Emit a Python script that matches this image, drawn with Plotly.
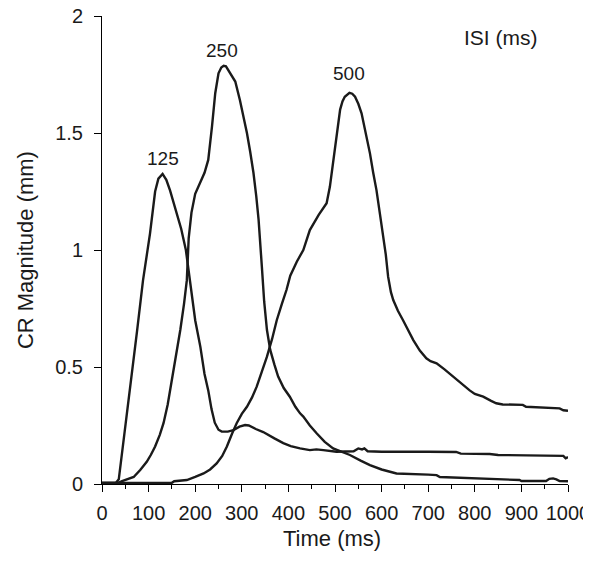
import plotly.graph_objects as go

# ---------- data ----------

t_125 = [0, 30, 36, 50, 62, 75, 88, 103, 114, 121, 130, 138, 146, 160, 170, 180, 188, 200,
         211, 220, 228, 235, 242, 250, 257, 270, 282, 295, 307, 315, 330, 346, 370, 389,
         405, 425, 446, 460, 475, 503, 540, 550, 558, 563, 570, 600, 700, 760, 770, 832,
         850, 990, 995, 1000]
cr_125 = [0.005, 0.005, 0.02, 0.24, 0.43, 0.65, 0.87, 1.07, 1.25, 1.305, 1.325, 1.30, 1.255,
          1.155, 1.09, 1.0, 0.88, 0.70, 0.587, 0.47, 0.40, 0.32, 0.262, 0.232, 0.224, 0.224,
          0.23, 0.245, 0.252, 0.25, 0.235, 0.222, 0.195, 0.175, 0.162, 0.152, 0.145, 0.148,
          0.145, 0.138, 0.14, 0.152, 0.148, 0.152, 0.14, 0.138, 0.138, 0.137, 0.13, 0.128,
          0.124, 0.12, 0.11, 0.115]

t_250 = [0, 35, 43, 55, 68, 82, 96, 105, 114, 124, 132, 141, 150, 160, 168, 176, 182, 186,
         192, 200, 211, 220, 228, 232, 236, 243, 250, 256, 261, 266, 271, 279, 286, 296,
         304, 311, 318, 325, 331, 336, 343, 348, 354, 361, 370, 378, 390, 403, 415, 425,
         432, 446, 461, 478, 496, 515, 532, 555, 575, 600, 618, 632, 700, 718, 725, 796,
         850, 896, 900, 953, 960, 968, 975, 982, 1000]
cr_250 = [0.005, 0.005, 0.012, 0.02, 0.03, 0.06, 0.095, 0.125, 0.16, 0.21, 0.26, 0.34, 0.444,
          0.55, 0.658, 0.77, 0.87, 1.05, 1.16, 1.24, 1.29, 1.33, 1.385, 1.45, 1.527, 1.67,
          1.755, 1.78, 1.787, 1.785, 1.77, 1.745, 1.72, 1.64, 1.57, 1.5, 1.42, 1.33, 1.23,
          1.13, 0.93, 0.78, 0.658, 0.573, 0.51, 0.459, 0.41, 0.373, 0.33, 0.302, 0.288,
          0.25, 0.216, 0.18, 0.152, 0.136, 0.124, 0.10, 0.081, 0.062, 0.053, 0.045, 0.04,
          0.038, 0.03, 0.024, 0.02, 0.017, 0.013, 0.013, 0.022, 0.024, 0.02, 0.013, 0.012]

t_500 = [0, 150, 155, 182, 200, 218, 232, 246, 258, 268, 279, 289, 300, 311, 322, 332, 343,
         354, 365, 375, 386, 396, 404, 418, 432, 446, 465, 482, 489, 495, 500, 506, 511,
         516, 521, 531, 537, 543, 550, 557, 566, 575, 582, 589, 596, 603, 609, 614, 620,
         625, 635, 646, 657, 668, 682, 696, 705, 718, 735, 753, 770, 789, 800, 818, 835,
         846, 860, 903, 910, 946, 960, 982, 990, 1000]
cr_500 = [0.005, 0.005, 0.012, 0.017, 0.03, 0.045, 0.062, 0.088, 0.12, 0.16, 0.215, 0.26,
          0.30, 0.33, 0.37, 0.416, 0.48, 0.544, 0.62, 0.70, 0.77, 0.83, 0.89, 0.95, 1.0,
          1.085, 1.15, 1.2, 1.27, 1.36, 1.455, 1.54, 1.6, 1.635, 1.655, 1.672, 1.668, 1.655,
          1.625, 1.584, 1.50, 1.413, 1.33, 1.256, 1.16, 1.07, 0.98, 0.886, 0.82, 0.786, 0.74,
          0.70, 0.655, 0.615, 0.57, 0.537, 0.525, 0.516, 0.49, 0.459, 0.43, 0.40, 0.385,
          0.373, 0.355, 0.345, 0.34, 0.338, 0.33, 0.328, 0.325, 0.323, 0.315, 0.313]

isi_labels = ["125", "250", "500"]
label_x = [131, 257, 531]
label_y = [1.39, 1.852, 1.755]

# ---------- figure ----------

FONT = "Arial, Liberation Sans, Helvetica, sans-serif"
INK = "#1a1a1a"

fig = go.Figure()
for t, cr, name in [(t_125, cr_125, "125"), (t_250, cr_250, "250"), (t_500, cr_500, "500")]:
    fig.add_trace(go.Scatter(x=t, y=cr, mode="lines", name=name,
                             line=dict(color=INK, width=2.4), showlegend=False))

for txt, x, y in zip(isi_labels, label_x, label_y):
    fig.add_annotation(x=x, y=y, text=txt, showarrow=False,
                       font=dict(family=FONT, size=19, color=INK))
fig.add_annotation(x=857, y=1.908, text="ISI (ms)", showarrow=False,
                   font=dict(family=FONT, size=21, color=INK))

# axis titles placed by hand so the plot box stays where the reference has it
fig.add_annotation(xref="paper", yref="paper", x=0.494, y=-0.1175, text="Time (ms)",
                   showarrow=False, xanchor="center", yanchor="middle",
                   font=dict(family=FONT, size=22, color=INK))
fig.add_annotation(xref="paper", yref="paper", x=-0.165, y=0.5, text="CR Magnitude (mm)",
                   showarrow=False, textangle=-90, xanchor="center", yanchor="middle",
                   font=dict(family=FONT, size=22, color=INK))

fig.update_xaxes(range=[0, 1000], tickvals=list(range(0, 1001, 100)), automargin=False,
                 ticks="outside", ticklen=7, tickwidth=1, tickcolor="black", ticklabelstandoff=4,
                 ticklabeloverflow="allow",
                 minor=dict(dtick=50, ticks="outside", ticklen=4, tickwidth=1, tickcolor="black"),
                 showline=True, linecolor="black", linewidth=1, showgrid=False, zeroline=False,
                 tickfont=dict(family=FONT, size=20, color=INK))
fig.update_yaxes(range=[0, 2], tickvals=[0, 0.5, 1, 1.5, 2], ticktext=["0", "0.5", "1", "1.5", "2"],
                 automargin=False, ticks="outside", ticklen=7, tickwidth=1, tickcolor="black",
                 ticklabelstandoff=7, ticklabeloverflow="allow",
                 showline=True, linecolor="black", linewidth=1, showgrid=False, zeroline=False,
                 tickfont=dict(family=FONT, size=20, color=INK))

# the page body adds an 8 px offset, so the figure is 8 px smaller and the
# left/top margins 8 px narrower to land the plot box on the reference pixels
fig.update_layout(width=583, height=554, margin=dict(l=94, r=23, t=8, b=78),
                  plot_bgcolor="white", paper_bgcolor="white")

fig.write_html("out.html")
